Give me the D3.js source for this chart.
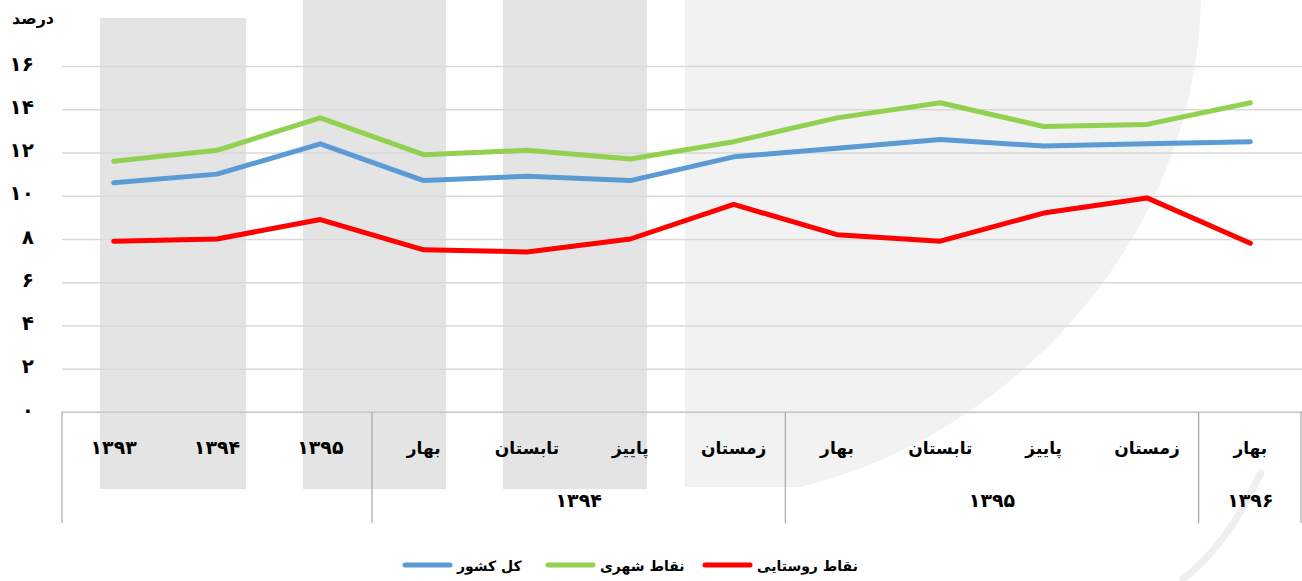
<!DOCTYPE html>
<html lang="fa">
<head>
    <meta charset="UTF-8">
    <title>نرخ بیکاری</title>
    <script src="https://d3js.org/d3.v7.min.js"></script>
    <style>
        body { margin: 0; background: #fff; }
        svg text { font-family: "DejaVu Sans", sans-serif; font-weight: bold; fill: #000; }
    </style>
</head>
<body>

<svg id="chart" width="1302" height="581"></svg>

<script>
    // periods along the x axis (yearly, then seasons)
    var periods = ["۱۳۹۳", "۱۳۹۴", "۱۳۹۵", "بهار", "تابستان", "پاییز", "زمستان", "بهار", "تابستان", "پاییز", "زمستان", "بهار"];
    // year groups under the seasons: label, first index, last index + 1
    var groupLabels = ["", "۱۳۹۴", "۱۳۹۵", "۱۳۹۶"];
    var groupStarts = [0, 3, 7, 11];
    var groupEnds = [3, 7, 11, 12];

    var seriesNames = ["کل کشور", "نقاط شهری", "نقاط روستایی"];
    var seriesColors = ["#5b9bd5", "#92d050", "#ff0000"];

    var total = [10.6, 11.0, 12.4, 10.7, 10.9, 10.7, 11.8, 12.2, 12.6, 12.3, 12.4, 12.5];
    var urban = [11.6, 12.1, 13.6, 11.9, 12.1, 11.7, 12.5, 13.6, 14.3, 13.2, 13.3, 14.3];
    var rural = [7.9, 8.0, 8.9, 7.5, 7.4, 8.0, 9.6, 8.2, 7.9, 9.2, 9.9, 7.8];

    var yTicks = [0, 2, 4, 6, 8, 10, 12, 14, 16];

    var svg = d3.select("#chart");
    var plotLeft = 62, plotRight = 1302, plotTop = 66, plotBottom = 412;

    function fa(n) {
        return String(n).replace(/\d/g, function (c) { return "۰۱۲۳۴۵۶۷۸۹"[+c]; });
    }

    // watermark in the background
    var wm = svg.append("g");
    wm.append("path")
        .attr("d", "M685,0 L1201,0 C1195,250 1000,440 800,487 L685,487 Z")
        .attr("fill", "#f2f2f2");
    wm.append("path")
        .attr("d", "M1262,470 C1240,520 1210,560 1180,581")
        .attr("fill", "none").attr("stroke", "#efefef").attr("stroke-width", 7);
    wm.append("rect").attr("x", 100).attr("y", 18).attr("width", 146).attr("height", 471).attr("fill", "#e4e4e4");
    wm.append("rect").attr("x", 303).attr("y", 0).attr("width", 143).attr("height", 489).attr("fill", "#e4e4e4");
    wm.append("rect").attr("x", 503).attr("y", 0).attr("width", 144).attr("height", 489).attr("fill", "#e4e4e4");

    var x = d3.scaleBand().domain(d3.range(periods.length)).range([plotLeft, plotRight]);
    var y = d3.scaleLinear().domain([0, 16]).range([plotBottom, plotTop]);

    function cx(i) { return x(i) + x.bandwidth() / 2; }
    function edge(i) { return i < periods.length ? x(i) : plotRight - 1; }

    // gridlines + tick labels
    var yAxis = svg.append("g")
        .attr("transform", "translate(" + plotRight + ",0)")
        .call(d3.axisLeft(y).tickValues(yTicks).tickSize(plotRight - plotLeft).tickPadding(28).tickFormat(fa));
    yAxis.select(".domain").remove();
    yAxis.selectAll("line").attr("stroke", "#d9d9d9").attr("stroke-width", 1.3);
    yAxis.selectAll("text")
        .attr("font-size", 20)
        .attr("dy", "0.2em")
        .attr("font-family", "DejaVu Sans")
        .attr("font-weight", "bold")
        .attr("fill", "#000");

    svg.append("text")
        .attr("x", 33).attr("y", 24)
        .attr("text-anchor", "middle")
        .attr("font-size", 16)
        .text("درصد");

    // category box
    var box = svg.append("g").attr("stroke", "#a6a6a6").attr("stroke-width", 1.2);
    box.append("line").attr("x1", plotLeft).attr("x2", plotRight).attr("y1", plotBottom).attr("y2", plotBottom).attr("stroke", "#bfbfbf");
    box.selectAll("line.sep")
        .data(groupStarts.concat([periods.length]))
        .enter().append("line")
        .attr("class", "sep")
        .attr("x1", edge).attr("x2", edge)
        .attr("y1", plotBottom).attr("y2", 523);

    svg.selectAll("text.period")
        .data(periods)
        .enter().append("text")
        .attr("class", "period")
        .attr("x", function (d, i) { return cx(i); })
        .attr("y", 454)
        .attr("text-anchor", "middle")
        .attr("font-size", function (d, i) { return i < 3 ? 19 : 17; })
        .text(function (d) { return d; });

    svg.selectAll("text.group")
        .data(groupLabels)
        .enter().append("text")
        .attr("class", "group")
        .attr("x", function (d, i) { return (x(groupStarts[i]) + (groupEnds[i] < periods.length ? x(groupEnds[i]) : plotRight)) / 2; })
        .attr("y", 507)
        .attr("text-anchor", "middle")
        .attr("font-size", 19)
        .text(function (d) { return d; });

    // lines
    var line = d3.line()
        .x(function (d, i) { return cx(i); })
        .y(function (d) { return y(d); });

    svg.selectAll("path.series")
        .data([total, urban, rural])
        .enter().append("path")
        .attr("class", "series")
        .attr("d", line)
        .attr("fill", "none")
        .attr("stroke", function (d, i) { return seriesColors[i]; })
        .attr("stroke-width", 5)
        .attr("stroke-linejoin", "round")
        .attr("stroke-linecap", "round");

    // legend (right to left: rural, urban, total)
    var legendX = [403, 546, 703];
    var legend = svg.selectAll("g.legend")
        .data(seriesNames)
        .enter().append("g")
        .attr("class", "legend")
        .attr("transform", function (d, i) { return "translate(" + legendX[i] + ",565)"; });
    legend.append("line")
        .attr("x1", 2).attr("x2", 47).attr("y1", 0).attr("y2", 0)
        .attr("stroke", function (d, i) { return seriesColors[i]; })
        .attr("stroke-width", 5)
        .attr("stroke-linecap", "round");
    legend.append("text")
        .attr("x", 54).attr("y", 6)
        .attr("font-size", 14)
        .text(function (d) { return d; });
</script>
</body>
</html>
